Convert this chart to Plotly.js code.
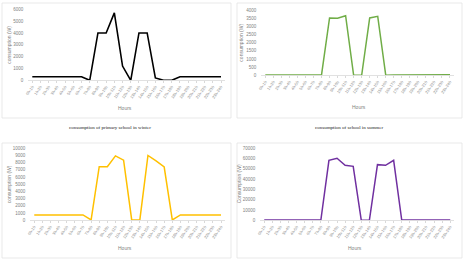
<!DOCTYPE html>
<html><head><meta charset="utf-8">
<script src="https://cdn.plot.ly/plotly-3.0.1.min.js"></script>
<style>html,body{margin:0;padding:0;background:#fff}#c{width:464px;height:262px}</style>
</head><body><div id="c"></div>
<script>
const hours = ["0h-1h","1h-2h","2h-3h","3h-4h","4h-5h","5h-6h","6h-7h","7h-8h","8h-9h","9h-10h","10h-11h","11h-12h","12h-13h","13h-14h","14h-15h","15h-16h","16h-17h","17h-18h","18h-19h","19h-20h","20h-21h","21h-22h","22h-23h","23h-24h"];
const winterPrimary = [300,300,300,300,300,300,300,0,4000,4000,5700,1200,0,4000,4000,200,0,0,300,300,300,300,300,300];
const summerSchool = [20,20,20,20,20,20,20,20,3510,3490,3650,0,0,3510,3610,0,20,20,20,30,40,40,40,40];
const panel3 = [750,750,750,750,750,750,750,50,7450,7450,8950,8350,50,50,9000,8250,7400,50,750,750,750,750,750,750];
const panel4 = [300,300,300,300,300,300,300,300,58300,60300,53500,52500,0,0,54100,53500,58300,300,300,300,300,300,300,300];
const yTitles = ["consumption (W)","consumption (W)","consumption (W)","Consumption (W)"];
const captions = ["consumption of primary school in winter","consumption of school in summer"];

const W=464,H=262;
const px=x=>x/W, py=y=>1-y/H;
const colors=["#000000","#70AD47","#FFC000","#7030A0"];
const series=[winterPrimary,summerSchool,panel3,panel4];
const yr=[[0,6000,1000],[0,4000,500],[0,10000,1000],[0,70000,10000]];
const areas=[[28.2,225.1,9.3,80.3],[261.3,454,10,75.3],[30.2,225.1,148.3,220.3],[260.2,454.3,148.3,220.3]];
const boxes=[[2,231,3,118],[237,462,3,118],[2,231,143,258],[237,462,143,258]];
const titlePos=[[125,108],[359,107],[125,248],[355,248]];
const yTitleX=[9,241,9,239];

const data=[],layout={width:W,height:H,margin:{l:0,r:0,t:0,b:0},showlegend:false,
 paper_bgcolor:"#fff",plot_bgcolor:"#fff",font:{family:"Liberation Sans, Arial",color:"#595959",size:5},
 shapes:[],annotations:[]};
for(let i=0;i<4;i++){
 const s=i===0?"":String(i+1);
 data.push({type:"scatter",mode:"lines",x:hours,y:series[i],xaxis:"x"+s,yaxis:"y"+s,
   line:{color:colors[i],width:i===0?1.6:1.5},hoverinfo:"skip"});
 const a=areas[i];
 layout["xaxis"+s]={domain:[px(a[0]),px(a[1])],anchor:"y"+s,type:"category",range:[-0.5,23.5],
   showgrid:false,zeroline:false,showline:true,linecolor:"#d9d9d9",linewidth:0.8,
   ticks:"outside",ticklen:2,tickcolor:"#d9d9d9",tickangle:-55,tickfont:{size:4,color:"#7f7f7f"},fixedrange:true};
 layout["yaxis"+s]={domain:[py(a[3]),py(a[2])],anchor:"x"+s,range:[yr[i][0],yr[i][1]],dtick:yr[i][2],tickformat:"d",
   showgrid:false,zeroline:false,showline:false,ticks:"",ticklabelstandoff:4,tickfont:{size:4.5,color:"#7f7f7f"},fixedrange:true};
 const b=boxes[i];
 layout.shapes.push({type:"rect",xref:"paper",yref:"paper",x0:px(b[0]),x1:px(b[1]),y0:py(b[3]),y1:py(b[2]),
   line:{color:"#e3e3e3",width:0.8},fillcolor:"rgba(0,0,0,0)"});
 layout.annotations.push({xref:"paper",yref:"paper",x:px(titlePos[i][0]),y:py(titlePos[i][1]),text:"Hours",
   showarrow:false,font:{size:5,color:"#7f7f7f"},xanchor:"center",yanchor:"middle"});
 layout.annotations.push({xref:"paper",yref:"paper",x:px(yTitleX[i]),y:py((a[2]+a[3])/2),text:yTitles[i],textangle:-90,
   showarrow:false,font:{size:5,color:"#7f7f7f"},xanchor:"center",yanchor:"middle"});
}
layout.annotations.push({xref:"paper",yref:"paper",x:px(110),y:py(128),text:captions[0],showarrow:false,
  font:{family:"Liberation Serif, Times New Roman",size:5,color:"#222"},xanchor:"center",yanchor:"middle"});
layout.annotations.push({xref:"paper",yref:"paper",x:px(349),y:py(127),text:captions[1],showarrow:false,
  font:{family:"Liberation Serif, Times New Roman",size:5,color:"#222"},xanchor:"center",yanchor:"middle"});
Plotly.newPlot("c",data,layout,{staticPlot:true,displayModeBar:false});
</script></body></html>
